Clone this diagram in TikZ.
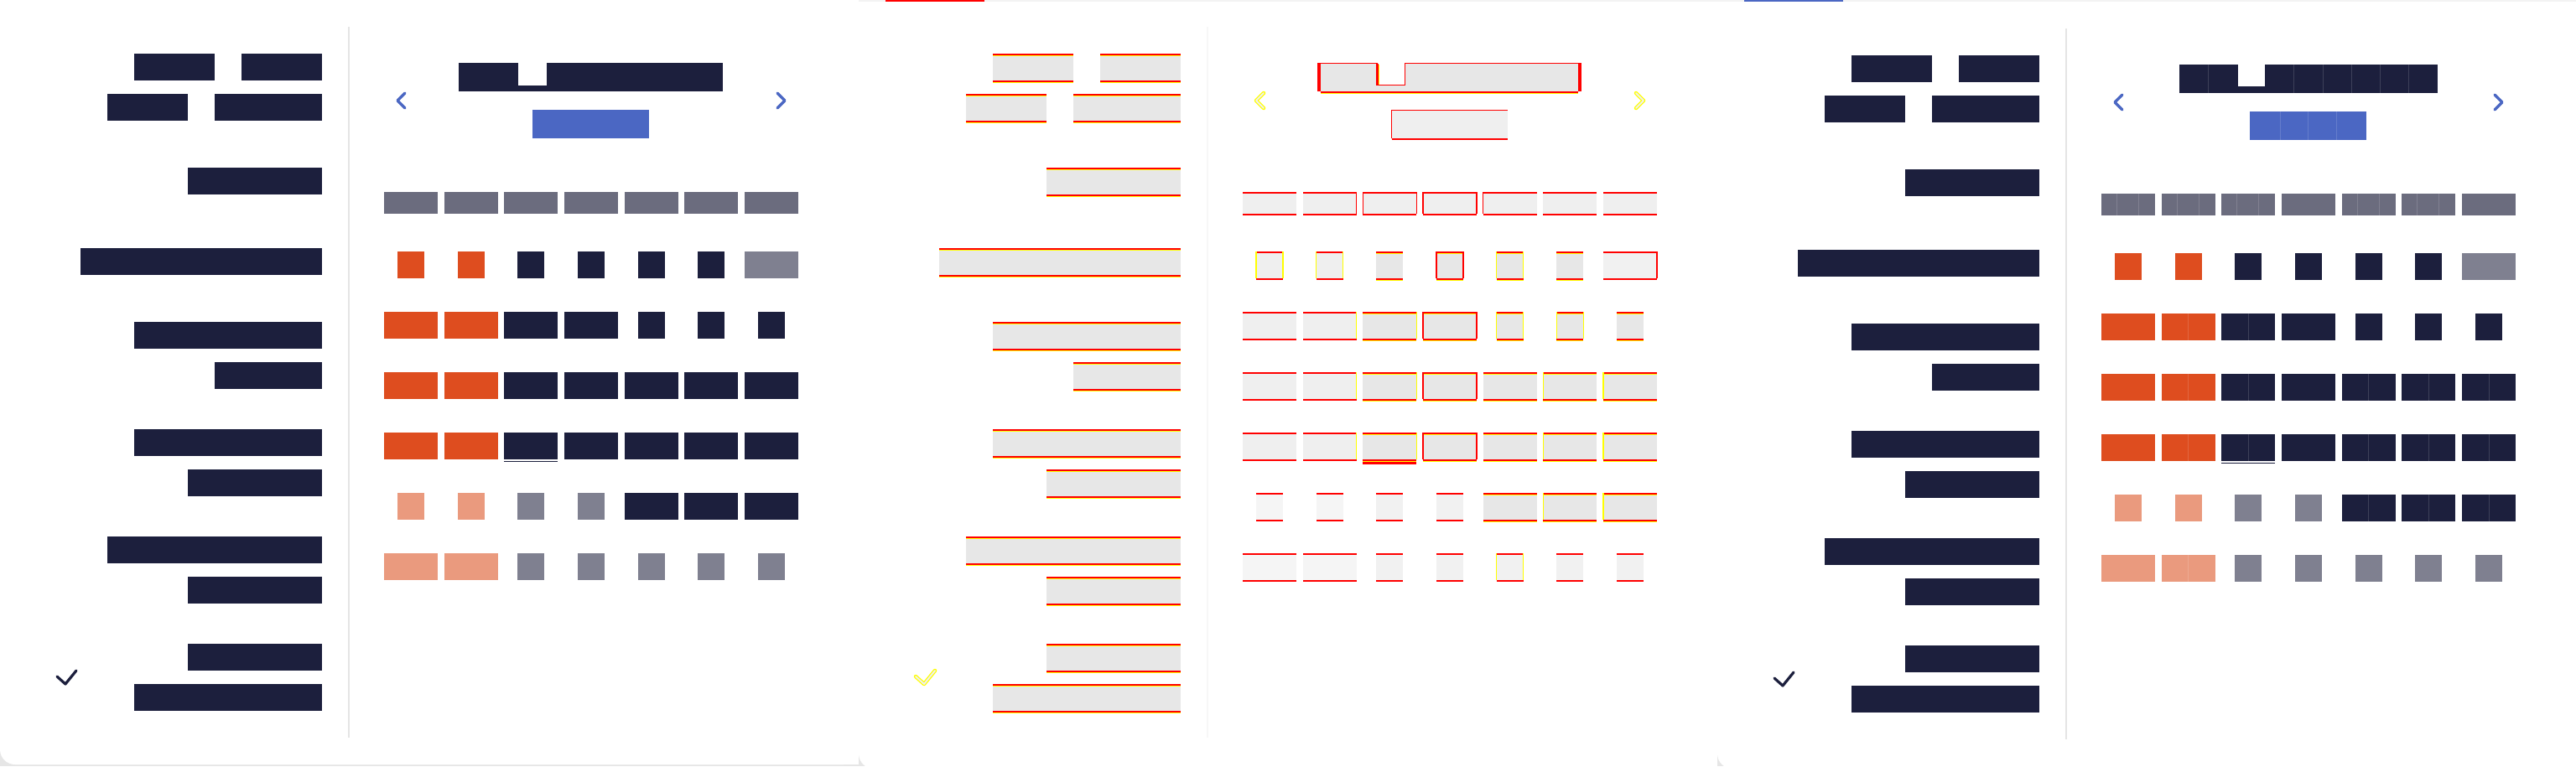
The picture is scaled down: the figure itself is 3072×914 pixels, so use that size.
\documentclass[tikz,border=0pt]{standalone}
\definecolor{navy}{HTML}{1C1F3D}
\definecolor{colD}{HTML}{1C1F3D}
\definecolor{colO}{HTML}{DE4D1F}
\definecolor{colL}{HTML}{EA9A7E}
\definecolor{colG}{HTML}{7F8090}
\definecolor{colH}{HTML}{6B6C7E}
\definecolor{colB}{HTML}{4B67C3}
\definecolor{pgD}{HTML}{E7E7E7}
\definecolor{pgO}{HTML}{EFEFEF}
\definecolor{pgL}{HTML}{F5F5F5}
\definecolor{pgG}{HTML}{F1F1F1}
\definecolor{pgH}{HTML}{EFEFEF}
\definecolor{rd}{HTML}{FF0000}
\definecolor{yl}{HTML}{FFFF00}
\colorlet{ytD}{yl}\colorlet{ybD}{yl}
\colorlet{ytO}{pgO}\colorlet{ybO}{white}
\colorlet{ytL}{pgL}\colorlet{ybL}{white}
\colorlet{ytG}{pgG}\colorlet{ybG}{white}
\colorlet{ytH}{pgH}\colorlet{ybH}{white}
\definecolor{bggray}{HTML}{E6E6E6}
\definecolor{topgray}{HTML}{F3F3F3}
\definecolor{divgray}{HTML}{E4E4E4}
\tikzset{chev/.style={line width=3.4pt,line cap=round,line join=round},
  tick/.style={line width=3.2pt,line cap=round,line join=round},
  subdiv/.style={white,opacity=.15,line width=1pt}}
% cell drawing, mode dependent
\newcommand\drawOne[5]{\fill[col#5] (#1,#2) rectangle (#3,#4);}
\newcommand\drawTwo[5]{%
  \fill[pg#5] (#1,#2) rectangle (#3,#4);
  \fill[rd] (#1,#2) rectangle (#3,#2+2);
  \fill[yt#5] (#1,#2+2) rectangle (#3,#2+3);
  \fill[rd] (#1,#4) rectangle (#3,#4+2);
  \fill[yb#5] (#1,#4+2) rectangle (#3,#4+3);}
\newcommand\Cell{\csname draw\CellMode\endcsname}
\newcommand\GC[5]{\pgfmathsetmacro\gcx{490+71.667*(#1-1)}\Cell{\gcx-#4}{#2}{\gcx+#4}{#3}{#5}}
\newcommand\GRow[3]{\foreach \c/\w/\k in {#3} {\edef\tmp{\noexpand\GC{\c}{#1}{#2}{\w}{\k}}\tmp}}
\newcommand\PanelContent{%
  \Cell{160}{64}{256}{96}{D}
  \Cell{288}{64}{384}{96}{D}
  \Cell{128}{112}{224}{144}{D}
  \Cell{256}{112}{384}{144}{D}
  \Cell{224}{200}{384}{232}{D}
  \Cell{96}{296}{384}{328}{D}
  \Cell{160}{384}{384}{416}{D}
  \Cell{256}{432}{384}{464}{D}
  \Cell{160}{512}{384}{544}{D}
  \Cell{224}{560}{384}{592}{D}
  \Cell{128}{640}{384}{672}{D}
  \Cell{224}{688}{384}{720}{D}
  \Cell{224}{768}{384}{800}{D}
  \Cell{160}{816}{384}{848}{D}
  \GRow{229}{255}{1/32/H,2/32/H,3/32/H,4/32/H,5/32/H,6/32/H,7/32/H}
  \GRow{300}{332}{1/16/O,2/16/O,3/16/D,4/16/D,5/16/D,6/16/D,7/32/G}
  \GRow{372}{404}{1/32/O,2/32/O,3/32/D,4/32/D,5/16/D,6/16/D,7/16/D}
  \GRow{444}{476}{1/32/O,2/32/O,3/32/D,4/32/D,5/32/D,6/32/D,7/32/D}
  \GRow{516}{548}{1/32/O,2/32/O,3/32/D,4/32/D,5/32/D,6/32/D,7/32/D}
  \GRow{588}{620}{1/16/L,2/16/L,3/16/G,4/16/G,5/32/D,6/32/D,7/32/D}
  \GRow{660}{692}{1/32/L,2/32/L,3/16/G,4/16/G,5/16/G,6/16/G,7/16/G}
}
\newcommand\SpecOne{%
  \fill[divgray] (415,32) rectangle (417,880);
  \fill[navy] (\tL,75) rectangle (\tR,109);
  \fill[white] (\nL,75) rectangle (\nR,\nB);
  \fill[colB] (635,131) rectangle (774,165);
  \draw[colB,chev] (483,111) -- (474,120) -- (483,129);
  \draw[colB,chev] (927,111) -- (936,120) -- (927,129);
  \draw[navy,tick] (68,807) -- (78,816) -- (91,800);
  \fill[navy] (601.3,549.5) rectangle (665.3,551.2);
}
\newcommand\SL[6]{\pgfmathsetmacro\slx{490+71.667*(#1-1)+#5*#4}\fill[#6] (\slx-0.7,#2) rectangle (\slx+0.7,#3);}
\newcommand\SpecTwo{%
  \fill[divgray!30] (415,32) rectangle (417,880);
  % title
  \fill[pgD] (551,75) rectangle (858,109);
  \fill[white] (619,75) rectangle (652,101);
  \fill[rd] (547,75) rectangle (551,109);
  \fill[rd] (858,75) rectangle (862,109);
  \fill[rd] (551,75) rectangle (619,76);
  \fill[rd] (652,75) rectangle (858,76);
  \fill[rd] (617,76) rectangle (620,102);
  \fill[yl] (620,77) rectangle (621,101);
  \fill[rd] (620,101) rectangle (652,102);
  \fill[rd] (651,75) rectangle (652,102);
  \fill[rd] (551,109) rectangle (858,111);
  \fill[yl] (551,111) rectangle (858,112);
  % button
  \fill[pgO] (635,131) rectangle (774,165);
  \fill[rd] (635,131) rectangle (774,132);
  \fill[rd] (635,131) rectangle (636,165);
  \fill[rd] (636,165) rectangle (774,167);
  % chevrons and tick
  \draw[yl,chev,line width=4.5pt] (483,111) -- (474,120) -- (483,129);
  \draw[pgO,chev,line width=2pt] (483,111) -- (474,120) -- (483,129);
  \draw[yl,chev,line width=4.5pt] (927,111) -- (936,120) -- (927,129);
  \draw[pgO,chev,line width=2pt] (927,111) -- (936,120) -- (927,129);
  \draw[yl,tick,line width=4.5pt] (68,807) -- (78,816) -- (91,800);
  \draw[pgO,tick,line width=2pt] (68,807) -- (78,816) -- (91,800);
  % underline
  \fill[rd] (601.3,551) rectangle (665.3,554);
  % side lines
  \foreach \c/\h/\s/\k in {2/32/1/rd,3/32/-1/rd,3/32/1/rd,4/32/-1/rd,4/32/1/rd,5/32/-1/rd}
    {\edef\tmp{\noexpand\SL{\c}{229}{255}{\h}{\s}{\k}}\tmp}
  \foreach \c/\t/\h/\s/\k in {1/300/16/-1/yl,1/300/16/1/yl,2/300/16/-1/yl,2/300/16/1/yl,
      4/300/16/-1/rd,4/300/16/1/rd,5/300/16/-1/yl,5/300/16/1/yl,7/300/32/1/rd,
      2/372/32/1/yl,3/372/32/1/yl,4/372/32/-1/rd,4/372/32/1/rd,5/372/16/-1/yl,5/372/16/1/yl,6/372/16/-1/yl,6/372/16/1/yl,
      2/444/32/1/yl,3/444/32/1/yl,4/444/32/-1/rd,4/444/32/1/rd,6/444/32/-1/yl,7/444/32/-1/yl,
      2/516/32/1/yl,3/516/32/1/yl,4/516/32/-1/rd,4/516/32/1/rd,6/516/32/-1/yl,7/516/32/-1/yl,
      6/588/32/-1/yl,7/588/32/-1/yl,5/660/16/-1/yl,5/660/16/1/yl}
    {\edef\tmp{\noexpand\SL{\c}{\t}{\t+32}{\h}{\s}{\k}}\tmp}
}
\newcommand\SubDiv{%
  \foreach \c in {1,2,3,5,6} {
    \pgfmathsetmacro\xo{458+71.667*(\c-1)}
    \draw[subdiv] (\xo+18.5,229) -- (\xo+18.5,255);
    \draw[subdiv] (\xo+44.5,229) -- (\xo+44.5,255);}
  \foreach \c/\t in {2/372,3/372,2/444,3/444,5/444,6/444,7/444,2/516,3/516,5/516,6/516,7/516,5/588,6/588,7/588,2/660} {
    \pgfmathsetmacro\xo{490+71.667*(\c-1)}
    \draw[subdiv] (\xo,\t) -- (\xo,\t+32);}
  \foreach \x in {585.7,687.7,722,756,790,824} {\draw[subdiv] (\x,74) -- (\x,109);}
  \foreach \x in {671.3,704.7,738.7} {\draw[subdiv] (\x,131) -- (\x,165);}
}
\begin{document}
\begin{tikzpicture}[x=1pt,y=-1pt]
\useasboundingbox (0,0) rectangle (3072,914);
\fill[bggray] (0,0) rectangle (3072,914);
% panel frames
\fill[white,rounded corners=18pt] (0,-40) rectangle (1024,912);
\fill[white] (40,-40) rectangle (1024,912);
\fill[topgray] (1024,0) rectangle (3072,2);
\fill[white,rounded corners=18pt] (1024,2) rectangle (2048,917);
\fill[white] (1060,2) rectangle (2048,917);
\fill[white] (1024,2) rectangle (1060,880);
\fill[white,rounded corners=18pt] (2048,2) rectangle (3110,917);
\fill[white] (2084,2) rectangle (3110,917);
\fill[white] (2048,2) rectangle (2084,880);
\fill[rd] (1056,0) rectangle (1174,2);
\fill[colB] (2080,0) rectangle (2198,2);
% panel 1
\begin{scope}
  \def\CellMode{One}
  \def\tL{547}\def\tR{862}\def\nL{618}\def\nR{652}\def\nB{102}
  \PanelContent
  \SpecOne
\end{scope}
% panel 2
\begin{scope}[shift={(1024,0)}]
  \def\CellMode{Two}
  \PanelContent
  \SpecTwo
\end{scope}
% panel 3
\begin{scope}[shift={(2048,2)}]
  \def\CellMode{One}
  \def\tL{551}\def\tR{859}\def\nL{621}\def\nR{653}\def\nB{101}
  \PanelContent
  \SpecOne
  \SubDiv
\end{scope}
\end{tikzpicture}
\end{document}
